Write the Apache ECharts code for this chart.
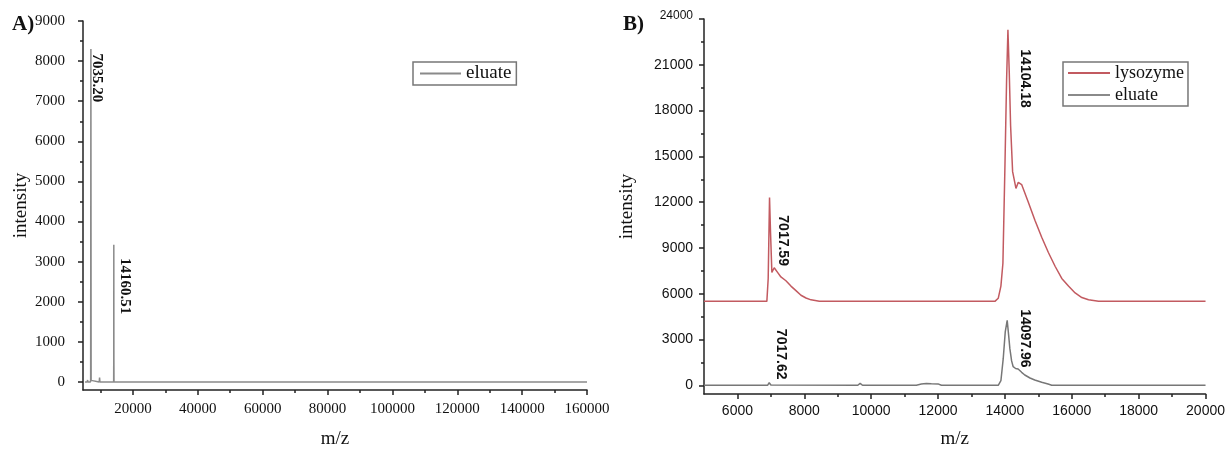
<!DOCTYPE html>
<html>
<head>
<meta charset="utf-8">
<script src="https://cdn.jsdelivr.net/npm/echarts@6/dist/echarts.min.js"></script>
<style>
html, body { margin: 0; background: #fff; }
#main { width: 1228px; height: 454px; }
</style>
</head>
<body>
<div id="main"></div>
<script>
// panel A - eluate spectrum, wide range
var mzA      = [5200, 5900, 6020, 6100, 6900, 6960, 7035, 7110, 7200, 9600, 9710, 9820, 14050, 14080, 14100, 14130, 14160, 160000];
var eluateA  = [0,    0,    50,   0,    0,    60,   8300, 40,   0,    0,    110,  0,    0,     580,   3420,  580,   0,     0];

// panel B - lysozyme vs eluate, zoomed
var mzLyso   = [5000, 6880, 6920, 6960, 6990, 7030, 7060, 7100, 7200, 7300, 7450, 7600, 7750, 7900, 8050, 8200, 8450,
                13700, 13800, 13880, 13940, 14000, 14050, 14090, 14130, 14170, 14230, 14330, 14400, 14500, 14700, 14900,
                15100, 15300, 15500, 15700, 15900, 16100, 16300, 16500, 16800, 20000];
var lysozyme = [5500, 5500, 7000, 12300, 10000, 7400, 7500, 7700, 7400, 7100, 6850, 6500, 6200, 5900, 5720, 5600, 5500,
                5500, 5700, 6500, 8000, 14300, 20000, 23300, 20500, 17000, 14000, 12900, 13300, 13150, 12000, 10800,
                9700, 8700, 7800, 7000, 6500, 6050, 5750, 5600, 5500, 5500];
var mzEluB   = [5000, 6900, 6950, 7000, 7050, 9600, 9670, 9740, 11350, 11500, 11650, 11800, 12000, 12100,
                13800, 13880, 13950, 14010, 14068, 14110, 14148, 14200, 14247, 14320, 14395, 14500, 14594, 14750,
                14892, 15100, 15290, 15400, 20000];
var eluateB  = [0,    0,    170,  20,   0,    0,    130,  0,    0,     80,    120,   100,   90,    0,
                0,     300,   1760,  3500,  4260,  3300,  2400,  1600,  1220,  1100,  1070,  850,   675,   480,
                350,   200,   80,    0,     0];

// tick labels
var ticksAX  = [20000, 40000, 60000, 80000, 100000, 120000, 140000, 160000];
var minorAX  = [10000, 30000, 50000, 70000, 90000, 110000, 130000, 150000];
var ticksAY  = [0, 1000, 2000, 3000, 4000, 5000, 6000, 7000, 8000, 9000];
var minorAY  = [500, 1500, 2500, 3500, 4500, 5500, 6500, 7500, 8500];
var ticksBX  = [6000, 8000, 10000, 12000, 14000, 16000, 18000, 20000];
var minorBX  = [7000, 9000, 11000, 13000, 15000, 17000, 19000];
var ticksBY  = [0, 3000, 6000, 9000, 12000, 15000, 18000, 21000, 24000];
var minorBY  = [1500, 4500, 7500, 10500, 13500, 16500, 19500, 22500];

// peak annotations
var peaksA = ['7035.20', '14160.51'];
var peaksB = ['7017.59', '14104.18'];
var peaksE = ['7017.62', '14097.96'];

var SERIF = '"Liberation Serif", "Times New Roman", serif';
var SANS = '"Liberation Sans", Arial, sans-serif';

function zip(xs, ys) {
    return xs.map(function (x, i) { return [x, ys[i]]; });
}

function axes(grid, min, max, labels, minors, font, size, margin, pos, name, nameGap, labelFmt) {
    var main = {
        type: 'value', gridIndex: grid, min: min, max: max, position: pos,
        name: name, nameLocation: 'middle', nameGap: nameGap,
        nameTextStyle: {fontFamily: SERIF, fontSize: 19, color: '#111'},
        axisLine: {show: true, onZero: false, lineStyle: {color: '#222', width: 1.5}},
        axisTick: {show: true, customValues: labels, length: 5, lineStyle: {color: '#222', width: 1.5}},
        axisLabel: {customValues: labels, margin: margin, fontFamily: font, fontSize: size, color: '#111',
                    formatter: labelFmt, rich: {small: {fontFamily: font, fontSize: 12, padding: [0, 0, 7, 0]}}},
        splitLine: {show: false}
    };
    // second axis only for the shorter minor ticks
    var minor = {
        type: 'value', gridIndex: grid, min: min, max: max, position: pos,
        axisLine: {show: false, onZero: false},
        axisTick: {show: true, customValues: minors, length: 3, lineStyle: {color: '#222', width: 1.5}},
        axisLabel: {show: false},
        splitLine: {show: false}
    };
    return [main, minor];
}

function peakLabel(name, coord, font, size) {
    return {name: name, coord: coord};
}

var plain = function (v) { return String(v); };
var topSmall = function (v) { return v === 24000 ? '{small|' + v + '}' : String(v); };

var xA = axes(0, 4600, 160000, ticksAX, minorAX, SERIF, 15, 12, 'bottom', 'm/z', 40, plain);
var yA = axes(0, -200, 9000, ticksAY, minorAY, SERIF, 15, 18, 'left', 'intensity', 52, plain);
var xB = axes(1, 5000, 20000, ticksBX, minorBX, SANS, 14, 10, 'bottom', 'm/z', 36, plain);
var yB = axes(1, -570, 24000, ticksBY, minorBY, SANS, 14, 11, 'left', 'intensity', 67, topSmall);

function markLabels(names, coords, font, size) {
    return {
        symbol: 'circle', symbolSize: 0,
        itemStyle: {color: 'rgba(0,0,0,0)'},
        label: {show: true, position: 'inside', rotate: -90, formatter: '{b}',
                fontFamily: font, fontSize: size, fontWeight: 'bold', color: '#111'},
        data: names.map(function (n, i) { return {name: n, coord: coords[i]}; })
    };
}

var myChart = echarts.init(document.getElementById('main'));
var option = {
    animation: false,
    backgroundColor: '#fff',
    title: [
        {text: 'A)', left: 12, top: 14, padding: 0,
         textStyle: {fontFamily: SERIF, fontSize: 21, fontWeight: 'bold', color: '#111'}},
        {text: 'B)', left: 623, top: 14, padding: 0,
         textStyle: {fontFamily: SERIF, fontSize: 21, fontWeight: 'bold', color: '#111'}}
    ],
    grid: [
        {left: 83, top: 21, right: 641, bottom: 57},
        {left: 704, top: 19, right: 20, bottom: 58}
    ],
    legend: [
        {data: ['eluate'], left: 413, top: 62, orient: 'vertical', icon: 'rect',
         itemWidth: 41, itemHeight: 2, itemGap: 4, selectedMode: false,
         borderColor: '#777', borderWidth: 1.5, padding: [2, 5, 2, 7],
         textStyle: {fontFamily: SERIF, fontSize: 19, color: '#111'}},
        {data: ['lysozyme', 'eluate'], left: 1063, top: 62, orient: 'vertical', icon: 'rect',
         itemWidth: 42, itemHeight: 2, itemGap: 4, selectedMode: false,
         borderColor: '#777', borderWidth: 1.5, padding: [2, 4, 2, 5],
         textStyle: {fontFamily: SERIF, fontSize: 18, color: '#111'}}
    ],
    xAxis: [xA[0], xA[1], xB[0], xB[1]],
    yAxis: [yA[0], yA[1], yB[0], yB[1]],
    series: [
        {
            name: 'eluate', type: 'line', xAxisIndex: 0, yAxisIndex: 0,
            data: zip(mzA, eluateA), symbol: 'none', color: '#8a8a8a',
            lineStyle: {width: 1.5},
            markPoint: markLabels(peaksA, [[8900, 7580], [17630, 2390]], SERIF, 15)
        },
        {
            name: 'lysozyme', type: 'line', xAxisIndex: 2, yAxisIndex: 2,
            data: zip(mzLyso, lysozyme), symbol: 'none', color: '#c25a60',
            lineStyle: {width: 1.5},
            markPoint: markLabels(peaksB, [[7350, 9480], [14594, 20100]], SANS, 14)
        },
        {
            name: 'eluate', type: 'line', xAxisIndex: 2, yAxisIndex: 2,
            data: zip(mzEluB, eluateB), symbol: 'none', color: '#777777',
            lineStyle: {width: 1.5},
            markPoint: markLabels(peaksE, [[7303, 2040], [14594, 3070]], SANS, 14)
        }
    ]
};
myChart.setOption(option);
</script>
</body>
</html>
